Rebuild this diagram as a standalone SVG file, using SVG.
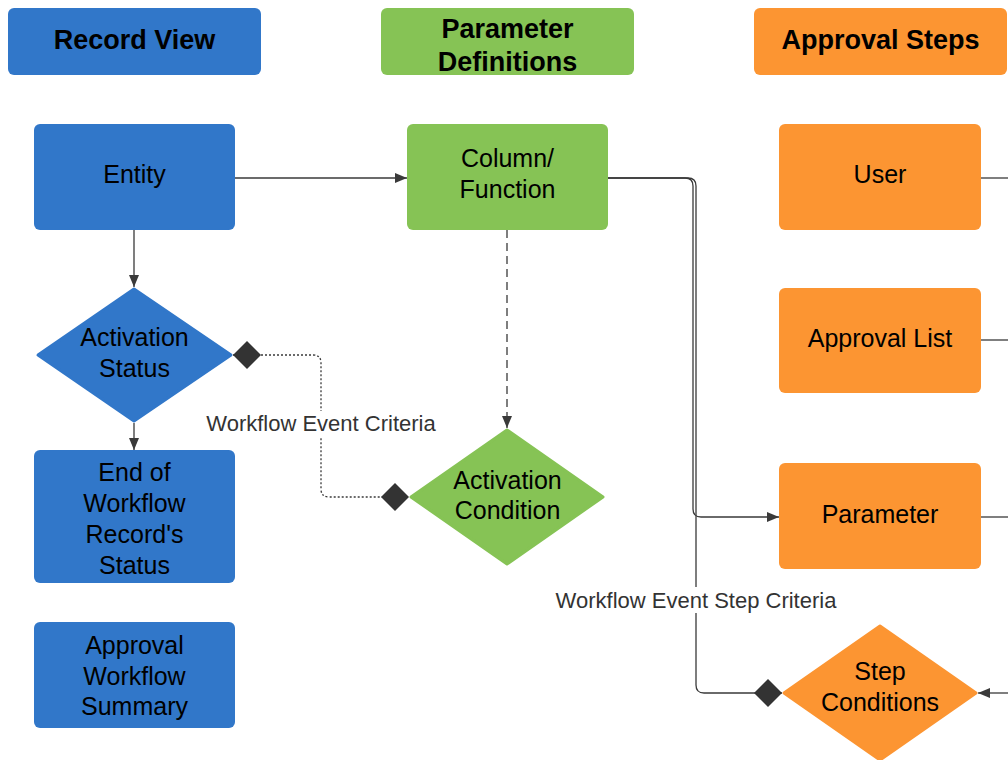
<svg xmlns="http://www.w3.org/2000/svg" width="1008" height="760" viewBox="0 0 1008 760">
<style>
.blue{fill:#3177C9;}
.green{fill:#86C355;}
.orange{fill:#FC9532;}
.dblue{fill:#3177C9;stroke:#3177C9;stroke-width:3;stroke-linejoin:round;}
.dgreen{fill:#86C355;stroke:#86C355;stroke-width:3;stroke-linejoin:round;}
.dorange{fill:#FC9532;stroke:#FC9532;stroke-width:3;stroke-linejoin:round;}
.hdr{font-family:"Liberation Sans",Arial,sans-serif;font-size:27px;font-weight:bold;fill:#000;text-anchor:middle;}
.t{font-family:"Liberation Sans",Arial,sans-serif;font-size:25px;fill:#000;text-anchor:middle;}
.lbl{font-family:"Liberation Sans",Arial,sans-serif;font-size:22px;fill:#333;text-anchor:middle;}
.c{fill:none;stroke:#3a3a3a;stroke-width:1.3;}
.dot{stroke-dasharray:2 2;}
.dash{stroke-dasharray:8 5;}
</style>
<defs>
<marker id="arr" viewBox="0 0 12 10" refX="12" refY="5" markerWidth="12" markerHeight="10" markerUnits="userSpaceOnUse" orient="auto">
<path d="M0,0 L12,5 L0,10 Z" fill="#3a3a3a"/>
</marker>
<marker id="dia" viewBox="0 0 28 28" refX="28" refY="14" markerWidth="28" markerHeight="28" markerUnits="userSpaceOnUse" orient="auto-start-reverse">
<path d="M0,14 L14,0 L28,14 L14,28 Z" fill="#333"/>
</marker>
</defs>

<g id="hdr-record-view">
<rect class="blue" x="8" y="8" width="253" height="67" rx="6"/>
<text class="hdr" x="134.5" y="49">Record View</text>
</g>
<g id="hdr-parameter-definitions">
<rect class="green" x="381" y="8" width="253" height="67" rx="6"/>
<text class="hdr" x="507.5" y="38">Parameter</text>
<text class="hdr" x="507.5" y="71">Definitions</text>
</g>
<g id="hdr-approval-steps">
<rect class="orange" x="754" y="8" width="253" height="67" rx="6"/>
<text class="hdr" x="880.5" y="49">Approval Steps</text>
</g>

<g id="connectors">
<path class="c" d="M235,178 H407" marker-end="url(#arr)"/>
<path class="c" d="M134,230 V287" marker-end="url(#arr)"/>
<path class="c" d="M134,423 V450" marker-end="url(#arr)"/>
<path class="c dash" d="M507,230 V428" marker-end="url(#arr)"/>
<path class="c dot" d="M233,355 H313 Q321,355 321,363 V489 Q321,497 329,497 H409" marker-start="url(#dia)" marker-end="url(#dia)"/>
<path class="c" d="M608,178 H685 Q693,178 693,186 V509 Q693,517 701,517 H779" marker-end="url(#arr)"/>
<path class="c" d="M608,178 H688 Q696,178 696,186 V685 Q696,693 704,693 H782" marker-end="url(#dia)"/>
<path class="c" d="M981,178 H1008"/>
<path class="c" d="M981,340 H1008"/>
<path class="c" d="M981,517 H1008"/>
<path class="c" d="M1008,693 H978" marker-end="url(#arr)"/>
<rect x="205" y="411" width="232" height="26" fill="#fff"/>
<text class="lbl" x="321" y="431">Workflow Event Criteria</text>
<rect x="555" y="587" width="283" height="26" fill="#fff"/>
<text class="lbl" x="696" y="608">Workflow Event Step Criteria</text>
</g>

<g id="entity">
<rect class="blue" x="34" y="124" width="201" height="106" rx="6"/>
<text class="t" x="134.5" y="183">Entity</text>
</g>
<g id="activation-status">
<polygon class="dblue" points="134,289 231,355 134,421 38,355"/>
<text class="t" x="134.5" y="346">Activation</text>
<text class="t" x="134.5" y="377">Status</text>
</g>
<g id="end-of-workflow">
<rect class="blue" x="34" y="450" width="201" height="133" rx="6"/>
<text class="t" x="134.5" y="481">End of</text>
<text class="t" x="134.5" y="512">Workflow</text>
<text class="t" x="134.5" y="543">Record's</text>
<text class="t" x="134.5" y="574">Status</text>
</g>
<g id="approval-workflow-summary">
<rect class="blue" x="34" y="622" width="201" height="106" rx="6"/>
<text class="t" x="134.5" y="654">Approval</text>
<text class="t" x="134.5" y="685">Workflow</text>
<text class="t" x="134.5" y="715">Summary</text>
</g>
<g id="column-function">
<rect class="green" x="407" y="124" width="201" height="106" rx="6"/>
<text class="t" x="507.5" y="167">Column/</text>
<text class="t" x="507.5" y="198">Function</text>
</g>
<g id="activation-condition">
<polygon class="dgreen" points="507,430 603,497 507,564 411,497"/>
<text class="t" x="507.5" y="489">Activation</text>
<text class="t" x="507.5" y="519">Condition</text>
</g>
<g id="user">
<rect class="orange" x="779" y="124" width="202" height="106" rx="6"/>
<text class="t" x="880" y="183">User</text>
</g>
<g id="approval-list">
<rect class="orange" x="779" y="288" width="202" height="105" rx="6"/>
<text class="t" x="880" y="347">Approval List</text>
</g>
<g id="parameter">
<rect class="orange" x="779" y="463" width="202" height="106" rx="6"/>
<text class="t" x="880" y="523">Parameter</text>
</g>
<g id="step-conditions">
<polygon class="dorange" points="880,626 976,693 880,760 784,693"/>
<text class="t" x="880" y="680">Step</text>
<text class="t" x="880" y="711">Conditions</text>
</g>
</svg>
